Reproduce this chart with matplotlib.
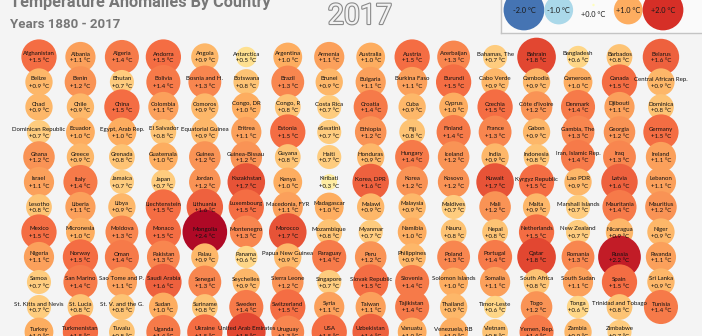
import matplotlib
matplotlib.use("Agg")
import matplotlib.pyplot as plt
import numpy as np
from matplotlib import colors
from matplotlib import patheffects as pe
from matplotlib.font_manager import fontManager

# ---------------------------------------------------------------- data
countries = [
    "Afghanistan", "Albania", "Algeria", "Andorra", "Angola", "Antarctica", "Argentina", "Armenia",
    "Australia", "Austria", "Azerbaijan", "Bahamas, The", "Bahrain", "Bangladesh", "Barbados", "Belarus",
    "Belize", "Benin", "Bhutan", "Bolivia", "Bosnia and H.", "Botswana", "Brazil", "Brunei",
    "Bulgaria", "Burkina Faso", "Burundi", "Cabo Verde", "Cambodia", "Cameroon", "Canada", "Central African Rep.",
    "Chad", "Chile", "China", "Colombia", "Comoros", "Congo, DR", "Congo, R", "Costa Rica",
    "Croatia", "Cuba", "Cyprus", "Czechia", "Côte d'Ivoire", "Denmark", "Djibouti", "Dominica",
    "Dominican Republic", "Ecuador", "Egypt, Arab Rep.", "El Salvador", "Equatorial Guinea", "Eritrea", "Estonia", "eSwatini",
    "Ethiopia", "Fiji", "Finland", "France", "Gabon", "Gambia, The", "Georgia", "Germany",
    "Ghana", "Greece", "Grenada", "Guatemala", "Guinea", "Guinea-Bissau", "Guyana", "Haiti",
    "Honduras", "Hungary", "Iceland", "India", "Indonesia", "Iran, Islamic Rep.", "Iraq", "Ireland",
    "Israel", "Italy", "Jamaica", "Japan", "Jordan", "Kazakhstan", "Kenya", "Kiribati",
    "Korea, DPR", "Korea", "Kosovo", "Kuwait", "Kyrgyz Republic", "Lao PDR", "Latvia", "Lebanon",
    "Lesotho", "Liberia", "Libya", "Liechtenstein", "Lithuania", "Luxembourg", "Macedonia, FYR", "Madagascar",
    "Malawi", "Malaysia", "Maldives", "Mali", "Malta", "Marshall Islands", "Mauritania", "Mauritius",
    "Mexico", "Micronesia", "Moldova", "Monaco", "Mongolia", "Montenegro", "Morocco", "Mozambique",
    "Myanmar", "Namibia", "Nauru", "Nepal", "Netherlands", "New Zealand", "Nicaragua", "Niger",
    "Nigeria", "Norway", "Oman", "Pakistan", "Palau", "Panama", "Papua New Guinea", "Paraguay",
    "Peru", "Philippines", "Poland", "Portugal", "Qatar", "Romania", "Russia", "Rwanda",
    "Samoa", "San Marino", "Sao Tome and P.", "Saudi Arabia", "Senegal", "Seychelles", "Sierra Leone", "Singapore",
    "Slovak Republic", "Slovenia", "Solomon Islands", "Somalia", "South Africa", "South Sudan", "Spain", "Sri Lanka",
    "St. Kitts and Nevis", "St. Lucia", "St. V. and the G.", "Sudan", "Suriname", "Sweden", "Switzerland", "Syria",
    "Taiwan", "Tajikistan", "Thailand", "Timor-Leste", "Togo", "Tonga", "Trinidad and Tobago", "Tunisia",
    "Turkey", "Turkmenistan", "Tuvalu", "Uganda", "Ukraine", "United Arab Emirates", "Uruguay", "USA",
    "Uzbekistan", "Vanuatu", "Venezuela, RB", "Vietnam", "Yemen, Rep.", "Zambia", "Zimbabwe",
]

anomalies = [
    1.5, 1.1, 1.4, 1.5, 0.9, 0.5, 1.0, 1.1, 1.0, 1.5, 1.3, 0.7, 1.8, 0.6, 0.8, 1.6,
    0.9, 1.2, 0.7, 1.4, 1.3, 0.8, 1.3, 0.9, 1.1, 1.1, 1.5, 0.9, 0.9, 1.0, 1.5, 0.9,
    0.9, 0.9, 1.5, 1.1, 0.9, 1.0, 0.8, 0.7, 1.4, 0.9, 1.0, 1.5, 1.2, 1.4, 1.1, 0.8,
    0.7, 1.0, 1.0, 0.8, 0.9, 1.1, 1.5, 0.7, 1.2, 0.8, 1.4, 1.3, 0.9, 1.3, 1.2, 1.5,
    1.2, 0.9, 0.8, 1.0, 1.2, 1.2, 0.8, 0.7, 0.9, 1.4, 1.2, 0.9, 0.8, 1.4, 1.3, 1.1,
    1.1, 1.4, 0.7, 0.7, 1.2, 1.7, 1.0, 0.3, 1.6, 1.2, 1.2, 1.7, 1.5, 0.9, 1.6, 1.1,
    0.8, 1.1, 0.9, 1.5, 1.6, 1.5, 1.1, 1.0, 0.9, 0.9, 0.7, 1.2, 0.9, 0.7, 1.4, 1.2,
    1.5, 1.0, 1.3, 1.5, 2.4, 1.3, 1.7, 0.8, 0.7, 1.0, 0.8, 0.8, 1.5, 0.7, 0.9, 0.9,
    1.1, 1.5, 1.4, 1.3, 0.9, 0.6, 0.9, 1.4, 1.2, 0.9, 1.3, 1.4, 1.8, 1.3, 2.2, 1.1,
    0.7, 1.4, 1.1, 1.6, 1.3, 0.9, 1.2, 0.7, 1.5, 1.4, 1.0, 1.1, 0.8, 1.1, 1.5, 0.9,
    0.7, 0.8, 0.8, 1.0, 0.8, 1.4, 1.5, 1.1, 1.1, 1.4, 0.9, 0.6, 1.2, 0.6, 0.8, 1.4,
    1.0, 1.5, 0.8, 1.4, 1.5, 1.8, 1.3, 1.5, 1.6, 1.0, 1.0, 0.8, 1.4, 0.9, 0.7,
]

legend_values = [-2.0, -1.0, 0.0, 1.0, 2.0]

title = "Temperature Anomalies By Country"
subtitle = "Years 1880 - 2017"
year_label = "2017"

# ---------------------------------------------------------------- style
BG = "#f4f4f4"
N_COLS = 16
AREA_PER_DEGREE = 430.0       # marker area (pt^2) per degree of anomaly
cmap = plt.get_cmap("RdYlBu_r")
norm = colors.Normalize(vmin=-2.5, vmax=2.5)

installed = {f.name for f in fontManager.ttflist}
label_font = "Lato" if "Lato" in installed else "DejaVu Sans"
head_font = "Roboto" if "Roboto" in installed else "DejaVu Sans"


def fmt(v):
    return f"{v:+.1f} °C"


def marker_area(v):
    return np.maximum(AREA_PER_DEGREE * np.abs(v), 3.0)


fig = plt.figure(figsize=(7.02, 3.36), dpi=100, facecolor=BG)

# ---------------------------------------------------------------- bubble grid
ax = fig.add_axes([0, 0, 1, 1])
ax.set_facecolor(BG)
ax.axis("off")
ax.set_xlim(-0.94, 15.99)
ax.set_ylim(11.16, -2.28)

vals = np.asarray(anomalies)
idx = np.arange(len(countries))
cols = idx % N_COLS
rows = idx // N_COLS

ax.scatter(cols, rows, s=marker_area(vals), c=vals, cmap=cmap, norm=norm,
           edgecolors="none", zorder=2, clip_on=False)

for name, v, cx, cy in zip(countries, vals, cols, rows):
    ax.text(cx, cy - 0.12, name, ha="center", va="center", fontsize=4.4,
            family=label_font, color="#111111", zorder=4)
    ax.text(cx, cy + 0.16, fmt(v), ha="center", va="center", fontsize=4.4,
            family=label_font, color="#111111", zorder=4)

# ---------------------------------------------------------------- headings
renderer = fig.canvas.get_renderer()


def heading(x_px, y_px, text, size, max_w, **kw):
    t = fig.text(x_px / 702, 1 - y_px / 336, text, fontsize=size,
                 family=head_font, **kw)
    w = t.get_window_extent(renderer).width
    if w > max_w:
        t.set_fontsize(size * max_w / w)
    return t


heading(10, 7, title, 14, 262, ha="left", va="baseline", weight="bold",
        color="#777777")
heading(10, 28, subtitle, 13, 110, ha="left", va="baseline", weight="bold",
        color="#777777")
heading(360, 24, year_label, 30, 64, ha="center", va="baseline",
        color="#f2f2f2",
        path_effects=[pe.withStroke(linewidth=1.6, foreground="#8a8a8a")])

# ---------------------------------------------------------------- legend
lax = fig.add_axes([501 / 702, 1 - 33 / 336, 210 / 702, 36 / 336])
lax.set_facecolor("#fafafa")
lax.set_xticks([])
lax.set_yticks([])
for sp in lax.spines.values():
    sp.set_color("#c4c4c4")
    sp.set_linewidth(1.0)
lax.set_xlim(-0.66, 5.38)
lax.set_ylim(33, -3)

lv = np.asarray(legend_values)
lx = np.arange(len(lv))
ly = np.where(lv == 0, 5.0, 10.0)
lax.scatter(lx, ly, s=marker_area(lv), c=lv, cmap=cmap, norm=norm,
            edgecolors="none", clip_on=False, zorder=2)
for x, v in zip(lx, lv):
    lax.text(x, 14.5 if v == 0 else 10.5, fmt(v),
             ha="center", va="center", fontsize=5.3, family=label_font,
             color="#1a1a1a", zorder=3)

fig.savefig("out.png", dpi=100, facecolor=BG)
